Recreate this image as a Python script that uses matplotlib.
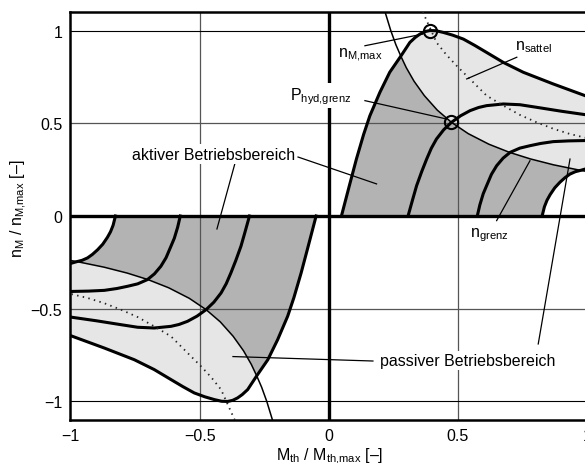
import numpy as np
import matplotlib
matplotlib.use("Agg")
import matplotlib.pyplot as plt

plt.rcParams["font.family"] = ["Liberation Sans", "DejaVu Sans"]
plt.rcParams["mathtext.fontset"] = "custom"
plt.rcParams["mathtext.rm"] = "Liberation Sans"
plt.rcParams["mathtext.it"] = "Liberation Sans"

# first quadrant curves, the third quadrant is the point mirror
# outer limit n_M,max
nmax_x = np.array([0.049, 0.08, 0.107, 0.135, 0.159, 0.198, 0.236, 0.279, 0.314, 0.335,
                   0.353, 0.372, 0.391, 0.415, 0.443, 0.48, 0.521, 0.565, 0.611, 0.676,
                   0.753, 0.869, 1.0])
nmax_y = np.array([0.0, 0.165, 0.307, 0.44, 0.54, 0.667, 0.775, 0.862, 0.936, 0.963,
                   0.981, 0.994, 1.0, 0.999, 0.99, 0.975, 0.954, 0.92, 0.882, 0.828,
                   0.775, 0.712, 0.645])

# speed curves through P_hyd,grenz and further right
mid_x = np.array([0.307, 0.325, 0.34, 0.36, 0.379, 0.397, 0.417, 0.445, 0.475, 0.51,
                  0.547, 0.58, 0.611, 0.676, 0.74, 0.805, 0.9, 1.0])
mid_y = np.array([0.0, 0.09, 0.163, 0.24, 0.307, 0.365, 0.415, 0.465, 0.505, 0.54,
                  0.568, 0.585, 0.595, 0.604, 0.6, 0.586, 0.565, 0.545])

c3_x = np.array([0.575, 0.585, 0.598, 0.611, 0.63, 0.65, 0.675, 0.702, 0.74, 0.779,
                 0.82, 0.869, 0.93, 1.0])
c3_y = np.array([0.0, 0.06, 0.12, 0.163, 0.225, 0.271, 0.312, 0.343, 0.366, 0.379,
                 0.391, 0.401, 0.405, 0.407])

c4_x = np.array([0.826, 0.835, 0.845, 0.857, 0.875, 0.895, 0.915, 0.934, 0.955, 0.975, 1.0])
c4_y = np.array([0.0, 0.05, 0.085, 0.115, 0.152, 0.182, 0.207, 0.226, 0.239, 0.246, 0.256])

# hydraulic power limit (thin)
hyp_x = np.array([0.218, 0.24, 0.26, 0.279, 0.3, 0.33, 0.37, 0.42, 0.475, 0.54, 0.62,
                  0.7, 0.78, 0.87, 0.975, 1.0])
hyp_y = np.array([1.10, 1.0, 0.923, 0.862, 0.8, 0.727, 0.649, 0.571, 0.505, 0.444, 0.387,
                  0.343, 0.308, 0.276, 0.246, 0.24])

# n_sattel (dotted)
sat_x = np.array([0.364, 0.39, 0.417, 0.455, 0.495, 0.547, 0.611, 0.676, 0.74, 0.805,
                  0.87, 0.934, 1.0])
sat_y = np.array([1.1, 1.02, 0.936, 0.87, 0.81, 0.738, 0.649, 0.595, 0.545, 0.505,
                  0.47, 0.442, 0.42])

x_cut_nmax = 0.279   # hyperbola meets n_M,max
x_cut_c4 = 0.975     # hyperbola meets outer speed curve

circ_x = [0.391, 0.475]
circ_y = [1.0, 0.505]

xticks = [-1, -0.5, 0, 0.5, 1]
xticklabels = ["\u22121", "\u22120.5", "0", "0.5", "1"]
yticks = [-1, -0.5, 0, 0.5, 1]
yticklabels = ["\u22121", "\u22120.5", "0", "0.5", "1"]

DARK = "#b3b3b3"
LIGHT = "#e6e6e6"

fig = plt.figure(figsize=(5.85, 4.64), dpi=100)
ax = fig.add_axes([0.1205, 0.0927, 0.883, 0.8793])
ax.set_xlim(-1, 1)
ax.set_ylim(-1.1, 1.1)

# operating regions
dark_x = np.concatenate([c4_x[c4_x <= x_cut_c4],
                         hyp_x[(hyp_x >= x_cut_nmax) & (hyp_x <= x_cut_c4)][::-1],
                         nmax_x[nmax_x <= x_cut_nmax][::-1]])
dark_y = np.concatenate([c4_y[c4_x <= x_cut_c4],
                         hyp_y[(hyp_x >= x_cut_nmax) & (hyp_x <= x_cut_c4)][::-1],
                         nmax_y[nmax_x <= x_cut_nmax][::-1]])
light_x = np.concatenate([nmax_x[nmax_x >= x_cut_nmax], hyp_x[hyp_x >= x_cut_nmax][::-1]])
light_y = np.concatenate([nmax_y[nmax_x >= x_cut_nmax], hyp_y[hyp_x >= x_cut_nmax][::-1]])

for s in (1, -1):
    ax.fill(s * dark_x, s * dark_y, color=DARK, lw=0, zorder=1)
    ax.fill(s * light_x, s * light_y, color=LIGHT, lw=0, zorder=1)

# grid
for v in (-0.5, 0.5):
    ax.axvline(v, color="#555555", lw=0.9, zorder=2)
    ax.axhline(v, color="#555555", lw=0.9, zorder=2)
for v in (-1, 1):
    ax.axhline(v, color="black", lw=0.8, zorder=2)
ax.axhline(0, color="black", lw=2.4, zorder=3)
ax.axvline(0, color="black", lw=2.4, zorder=3)

for s in (1, -1):
    for cx, cy in [(nmax_x, nmax_y), (mid_x, mid_y), (c3_x, c3_y), (c4_x, c4_y)]:
        ax.plot(s * cx, s * cy, color="black", lw=2.2, zorder=4)
    ax.plot(s * hyp_x, s * hyp_y, color="black", lw=1.1, zorder=4)
    ax.plot(s * sat_x, s * sat_y, color="#222222", lw=1.3, ls=(0, (0.8, 2.4)), zorder=4)

ax.plot(circ_x, circ_y, "o", ms=9.5, mfc="none", mec="black", mew=1.5, zorder=6)

# labels with leader lines
leaders = [
    ((0.14, 0.364), (0.918, 0.981)),
    ((0.14, 0.456), (0.622, 0.523)),
    ((0.728, 0.534), (0.856, 0.739)),
    ((0.65, 0.779), (-0.025, 0.298)),
    ((-0.119, 0.185), (0.318, 0.173)),
    ((-0.364, -0.433), (0.28, -0.07)),
    ((0.811, 0.934), (-0.69, 0.307)),
    ((0.171, -0.371), (-0.782, -0.758)),
]
for lx, ly in leaders:
    ax.plot(lx, ly, color="black", lw=0.9, zorder=5)

box = dict(facecolor="white", edgecolor="none", pad=1.5)
fs = 11.5
ax.text(0.035, 0.858, r"n$_\mathrm{M{,}max}$", fontsize=fs, ha="left", va="baseline", zorder=7)
ax.text(-0.151, 0.631, r"P$_\mathrm{hyd{,}grenz}$", fontsize=fs, ha="left", va="baseline",
        bbox=box, zorder=7)
ax.text(0.721, 0.9, r"n$_\mathrm{sattel}$", fontsize=fs, ha="left", va="baseline", zorder=7)
ax.text(0.547, -0.108, r"n$_\mathrm{grenz}$", fontsize=fs, ha="left", va="baseline", zorder=7)
ax.text(-0.762, 0.334, "aktiver Betriebsbereich", fontsize=fs, ha="left", va="center",
        bbox=box, zorder=7)
ax.text(0.2, -0.78, "passiver Betriebsbereich", fontsize=fs, ha="left", va="center",
        bbox=box, zorder=7)

ax.set_xticks(xticks)
ax.set_xticklabels(xticklabels)
ax.set_yticks(yticks)
ax.set_yticklabels(yticklabels)
ax.tick_params(length=0, pad=6, labelsize=fs)
for sp in ax.spines.values():
    sp.set_linewidth(1.8)

fig.text(329.5 / 585, 3 / 464, r"M$_\mathrm{th}$ / M$_\mathrm{th{,}max}$ [–]", fontsize=fs,
         ha="center", va="baseline")
fig.text(23 / 585, 0.5496, r"n$_\mathrm{M}$ / n$_\mathrm{M{,}max}$ [–]", fontsize=fs,
         rotation=90, rotation_mode="anchor", ha="center", va="baseline")

fig.savefig("out.png", dpi=100)
